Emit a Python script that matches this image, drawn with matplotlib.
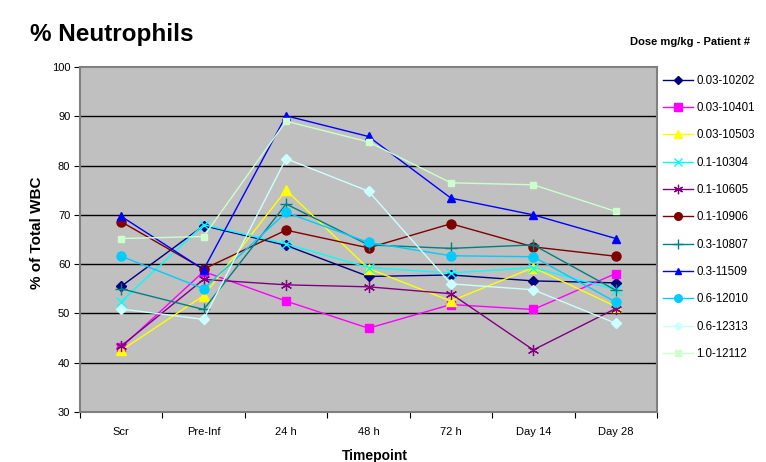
import matplotlib
matplotlib.use("Agg")
import matplotlib.pyplot as plt

plt.rcParams['font.family'] = ['Liberation Sans', 'DejaVu Sans']

timepoints = ["Scr", "Pre-Inf", "24 h", "48 h", "72 h", "Day 14", "Day 28"]

p_003_10202 = [55.5, 67.8, 63.8, 57.5, 57.8, 56.6, 56.2]
p_003_10401 = [43.1, 58.5, 52.5, 47.0, 51.8, 50.8, 58.1]
p_003_10503 = [42.5, 53.6, 75.0, 59.1, 52.5, 59.3, 51.4]
p_01_10304 = [52.4, 68.0, 64.1, 59.3, 58.2, 59.3, 54.8]
p_01_10605 = [43.4, 56.9, 55.8, 55.4, 54.0, 42.6, 51.0]
p_01_10906 = [68.6, 59.0, 66.9, 63.3, 68.2, 63.5, 61.6]
p_03_10807 = [55.0, 50.8, 72.2, 63.9, 63.2, 63.9, 54.7]
p_03_11509 = [69.7, 58.9, 90.1, 85.9, 73.4, 70.0, 65.2]
p_06_12010 = [61.6, 55.0, 70.5, 64.4, 61.7, 61.5, 52.3]
p_06_12313 = [50.9, 48.8, 81.4, 74.8, 56.0, 54.8, 48.0]
p_10_12112 = [65.2, 65.6, 89.0, 84.8, 76.5, 76.1, 70.7]

series_names = ["0.03-10202", "0.03-10401", "0.03-10503", "0.1-10304", "0.1-10605",
                "0.1-10906", "0.3-10807", "0.3-11509", "0.6-12010", "0.6-12313", "1.0-12112"]
series_values = [p_003_10202, p_003_10401, p_003_10503, p_01_10304, p_01_10605,
                 p_01_10906, p_03_10807, p_03_11509, p_06_12010, p_06_12313, p_10_12112]

styles = [
    dict(color="#000080", marker="D", ms=5),
    dict(color="#FF00FF", marker="s", ms=6),
    dict(color="#FFFF00", marker="^", ms=7),
    dict(color="#00FFFF", marker="x", ms=7, mew=1.0),
    dict(color="#800080", marker=(6, 2, 0), ms=8, mew=0.9),
    dict(color="#800000", marker="o", ms=6.5),
    dict(color="#008080", marker="+", ms=9, mew=1.0),
    dict(color="#0000FF", marker="^", ms=5.5),
    dict(color="#00CCFF", marker="o", ms=6.5),
    dict(color="#CCFFFF", marker="D", ms=5),
    dict(color="#CCFFCC", marker="s", ms=5),
]

fig = plt.figure(figsize=(7.66, 4.62), dpi=100)
ax = fig.add_axes([80 / 766, 1 - 412 / 462, 577 / 766, 345 / 462])
ax.set_facecolor("#C0C0C0")

x = list(range(len(timepoints)))
handles = []
for name, vals, st in zip(series_names, series_values, styles):
    h, = ax.plot(x, vals, color=st["color"], lw=1.0, marker=st["marker"],
                 ms=st["ms"], mec=st["color"], mfc=st["color"],
                 mew=st.get("mew", 1.0), label=name, zorder=3)
    handles.append(h)

ax.set_xlim(-0.5, len(timepoints) - 0.5)
ax.set_ylim(30, 100)
ax.set_yticks(range(30, 101, 10))
ax.tick_params(axis="y", labelsize=8, length=4, width=0.8, direction="out", pad=3)
ax.set_xticks([i + 0.5 for i in range(-1, len(timepoints))])
ax.set_xticklabels([])
ax.set_xticks(x, minor=True)
ax.set_xticklabels(timepoints, minor=True)
ax.tick_params(axis="x", which="major", length=4, width=0.8, direction="out")
ax.tick_params(axis="x", which="minor", length=0, labelsize=8, pad=11)

for v in range(40, 100, 10):
    ax.axhline(v, color="black", lw=1.0, zorder=1)
for s in ax.spines.values():
    s.set_color("#808080")
    s.set_linewidth(1.5)

fig.text(37 / 766, 1 - 233 / 462, "% of Total WBC", ha="center", va="center",
         rotation=90, fontsize=11, fontweight="bold")
fig.text(375 / 766, 1 - 456 / 462, "Timepoint", ha="center", va="center",
         fontsize=10, fontweight="bold")

fig.text(30 / 766, 1 - 35 / 462, "% Neutrophils", ha="left", va="center",
         fontsize=17.5, fontweight="bold")
fig.text(750 / 766, 1 - 42 / 462, "Dose mg/kg - Patient #", ha="right", va="center",
         fontsize=8, fontweight="bold")

leg = fig.legend(handles=handles, loc="upper left",
                 bbox_to_anchor=(658 / 766, 1 - 70 / 462),
                 frameon=False, fontsize=8.3, handlelength=2.6, handletextpad=0.35,
                 labelspacing=1.33, borderaxespad=0, markerscale=0.85)

fig.savefig("out.png", dpi=100)
